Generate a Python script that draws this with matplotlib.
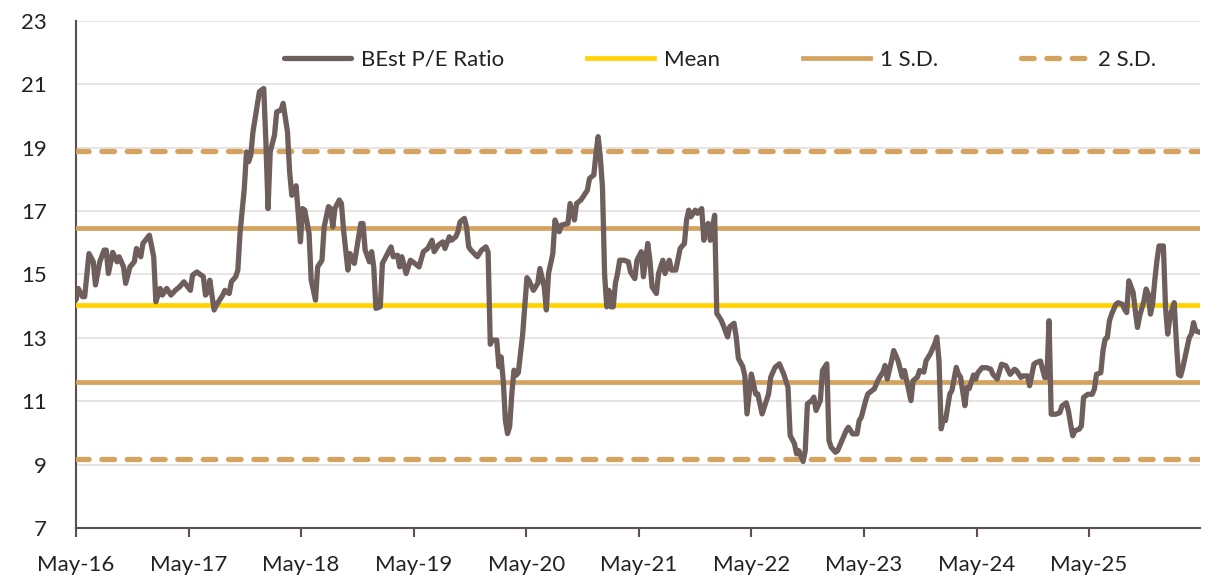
import numpy as np
import pandas as pd
import matplotlib
matplotlib.use("Agg")
import matplotlib.pyplot as plt
import matplotlib.dates as mdates

plt.rcParams['font.family'] = ['Lato', 'DejaVu Sans']

# weekly observations, counted in weeks from 1 May 2016
start = '2016-05-01'
weeks = [0, 1, 3, 4, 6, 8, 9, 11, 13, 14, 15, 17, 19, 20, 22, 23, 25, 27, 28, 30,
         31, 34, 36, 37, 39, 40, 42, 44, 46, 48, 50, 53, 54, 56, 58, 59, 60, 61, 62, 64,
         65, 68, 69, 71, 72, 74, 75, 76, 78, 79, 80, 81, 82, 84, 85, 87, 88, 89, 90, 92,
         93, 95, 96, 98, 99, 100, 102, 104, 105, 106, 108, 109, 111, 112, 114, 115, 117, 118, 119, 120,
         122, 123, 124, 126, 127, 129, 130, 132, 133, 134, 136, 137, 138, 139, 141, 142, 144, 146, 147, 149,
         150, 151, 153, 155, 157, 159, 161, 163, 165, 166, 168, 170, 171, 173, 174, 176, 177, 178, 180, 181,
         182, 183, 186, 188, 190, 191, 192, 193, 195, 196, 197, 198, 199, 200, 201, 202, 203, 204, 205, 207,
         208, 209, 210, 212, 214, 215, 217, 218, 219, 221, 222, 224, 225, 228, 229, 231, 232, 234, 235, 237,
         238, 240, 241, 242, 243, 244, 245, 246, 247, 248, 249, 250, 251, 252, 254, 256, 257, 259, 260, 262,
         263, 265, 266, 267, 269, 270, 272, 273, 275, 276, 278, 280, 282, 283, 284, 285, 287, 288, 290, 291,
         292, 293, 294, 296, 297, 298, 299, 300, 302, 303, 305, 306, 307, 309, 310, 311, 313, 315, 316, 318,
         319, 321, 322, 324, 326, 328, 330, 331, 333, 334, 335, 337, 338, 339, 341, 342, 343, 345, 346, 348,
         349, 350, 352, 353, 355, 357, 358, 360, 362, 363, 364, 366, 367, 369, 370, 372, 374, 375, 376, 378,
         379, 381, 383, 384, 385, 387, 388, 390, 391, 393, 394, 396, 398, 399, 400, 401, 402, 403, 405, 406,
         408, 409, 410, 412, 413, 414, 416, 417, 418, 420, 422, 424, 425, 427, 429, 431, 433, 435, 436, 438,
         439, 441, 442, 444, 445, 447, 449, 450, 451, 452, 454, 456, 457, 459, 460, 461, 462, 463, 465, 466,
         467, 469, 471, 472, 473, 475, 476, 477, 478, 479, 480, 482, 483, 485, 486, 487, 488, 490, 491, 492,
         493, 495, 496, 497, 498, 499, 500, 501, 502, 504, 505, 506, 507, 508, 509, 510, 511, 512, 513, 515,
         516, 517, 518, 519, 521]
pe = [14.2, 14.56, 14.3, 14.3, 15.66, 15.4, 14.67, 15.4, 15.77, 15.77, 15.03, 15.7, 15.4, 15.56, 15.24, 14.72, 15.24, 15.4, 15.82, 15.56,
      15.98, 16.24, 15.56, 14.14, 14.56, 14.35, 14.56, 14.35, 14.5, 14.61, 14.77, 14.5, 14.98, 15.08, 14.98, 14.93, 14.35, 14.45, 14.82, 13.88,
      14.03, 14.35, 14.5, 14.4, 14.77, 14.93, 15.14, 16.3, 17.72, 18.87, 18.56, 18.77, 19.5, 20.34, 20.77, 20.87, 19.19, 17.08, 18.87, 19.4,
      20.13, 20.19, 20.4, 19.5, 18.24, 17.5, 17.8, 16.03, 17.08, 17.03, 16.3, 14.82, 14.19, 15.24, 15.45, 16.5, 17.14, 17.08, 16.5, 17.08,
      17.35, 17.24, 16.4, 15.14, 15.66, 15.35, 15.77, 16.61, 16.61, 15.77, 15.4, 15.72, 15.24, 13.93, 13.98, 15.35, 15.61, 15.87, 15.56, 15.61,
      15.24, 15.56, 15.03, 15.45, 15.35, 15.24, 15.72, 15.82, 16.08, 15.72, 15.93, 16.03, 15.82, 16.19, 16.08, 16.19, 16.35, 16.66, 16.77, 16.5,
      15.87, 15.77, 15.56, 15.77, 15.87, 15.7, 12.8, 12.93, 12.93, 12.09, 12.4, 11.67, 10.4, 9.98, 10.2, 11.25, 11.98, 11.82, 11.9, 13.1,
      14.0, 14.9, 14.8, 14.5, 14.72, 15.19, 14.61, 13.88, 15.03, 15.66, 16.72, 16.35, 16.56, 16.61, 17.24, 16.72, 17.24, 17.35, 17.45, 17.66,
      18.03, 18.14, 18.82, 19.35, 18.71, 17.77, 15.0, 13.98, 14.5, 13.98, 13.98, 14.72, 15.03, 15.45, 15.45, 15.4, 15.08, 14.87, 15.45, 15.72,
      14.93, 15.98, 15.45, 14.61, 14.4, 15.03, 15.45, 15.03, 15.45, 15.14, 15.14, 15.82, 15.98, 16.72, 17.03, 16.82, 17.03, 16.93, 17.08, 16.08,
      16.5, 16.61, 16.08, 16.87, 13.77, 13.67, 13.56, 13.4, 13.03, 13.35, 13.46, 13.03, 12.35, 12.1, 11.8, 10.6, 11.86, 11.23, 11.23, 10.6,
      10.81, 11.23, 11.76, 12.07, 12.18, 11.86, 11.44, 9.92, 9.66, 9.34, 9.44, 9.1, 9.44, 10.92, 11.02, 11.13, 10.71, 11.02, 11.97, 12.18,
      9.76, 9.55, 9.39, 9.44, 9.76, 10.08, 10.18, 9.97, 9.97, 10.39, 10.5, 11.02, 11.23, 11.34, 11.39, 11.7, 11.92, 12.13, 11.7, 12.28,
      12.6, 12.28, 11.76, 11.97, 11.65, 11.02, 11.65, 11.76, 11.97, 11.92, 12.28, 12.5, 12.81, 13.02, 12.28, 10.13, 10.44, 10.39, 11.23, 11.34,
      12.07, 11.86, 11.76, 10.86, 11.44, 11.4, 11.83, 11.7, 11.9, 12.06, 12.06, 12.01, 11.85, 11.7, 12.17, 12.12, 11.85, 12.01, 11.96, 11.75,
      11.8, 11.8, 11.49, 12.17, 12.22, 12.27, 11.75, 11.75, 13.54, 10.59, 10.59, 10.64, 10.85, 10.95, 10.69, 10.28, 9.91, 10.07, 10.12, 10.22,
      11.12, 11.22, 11.22, 11.38, 11.85, 11.9, 12.59, 12.96, 13.01, 13.54, 13.75, 14.06, 14.11, 14.06, 13.9, 13.8, 14.8, 14.43, 13.85, 13.33,
      13.69, 14.17, 14.54, 14.38, 13.75, 14.06, 14.8, 15.43, 15.9, 15.9, 13.96, 13.12, 13.64, 13.9, 14.11, 12.9, 11.85, 11.8, 12.06, 12.69,
      13.01, 13.12, 13.48, 13.22, 13.17]

mean_pe = 14.03
sd_pe = 2.43
tick_years = list(range(2016, 2026))

dates = pd.Timestamp(start) + pd.to_timedelta(np.array(weeks) * 7, unit='D')

c_pe = '#6e5f5c'
c_mean = '#ffd200'
c_sd = '#d4a35f'

fig = plt.figure(figsize=(12.09, 5.81), dpi=100)
ax = fig.add_axes([0.0629, 0.0912, 0.9297, 0.8727])

ax.plot(dates, pe, color=c_pe, lw=3.8, solid_joinstyle='round', solid_capstyle='round',
        label='BEst P/E Ratio', zorder=5)
ax.axhline(mean_pe, color=c_mean, lw=3.4, label='Mean', zorder=3)
ax.axhline(mean_pe + sd_pe, color=c_sd, lw=3.4, label='1 S.D.', zorder=3)
ax.axhline(mean_pe - sd_pe, color=c_sd, lw=3.4, zorder=3)
dash = (0, (2.4, 2.4))
ax.axhline(mean_pe + 2 * sd_pe, color=c_sd, lw=3.8, ls=dash, dash_capstyle='round',
           label='2 S.D.', zorder=3)
ax.axhline(mean_pe - 2 * sd_pe, color=c_sd, lw=3.8, ls=dash, dash_capstyle='round', zorder=3)

ax.set_ylim(7, 23)
ax.set_yticks(np.arange(7, 24, 2))
ax.set_xlim(dates[0], dates[-1])
ax.set_xticks([pd.Timestamp(f'{y}-05-01') for y in tick_years])
ax.xaxis.set_major_formatter(mdates.DateFormatter('%b-%y'))

ax.grid(axis='y', color='#e6e2e2', lw=1.3, zorder=0)
ax.set_axisbelow(True)
for s in ['top', 'right']:
    ax.spines[s].set_visible(False)
for s in ['left', 'bottom']:
    ax.spines[s].set_color('#5b4f4e')
    ax.spines[s].set_linewidth(1.5)
ax.tick_params(axis='y', length=0, pad=21, labelsize=16, labelcolor='#222222')
ax.tick_params(axis='x', length=6.5, width=1.5, color='#5b4f4e', pad=13,
               labelsize=16, labelcolor='#222222')

leg = ax.legend(loc='center', bbox_to_anchor=(0.573, 0.924), ncol=4, frameon=False,
                fontsize=16, handlelength=3.0, handletextpad=0.45, columnspacing=3.75)
for t in leg.get_texts():
    t.set_color('#222222')

fig.savefig('out.png', dpi=100)
